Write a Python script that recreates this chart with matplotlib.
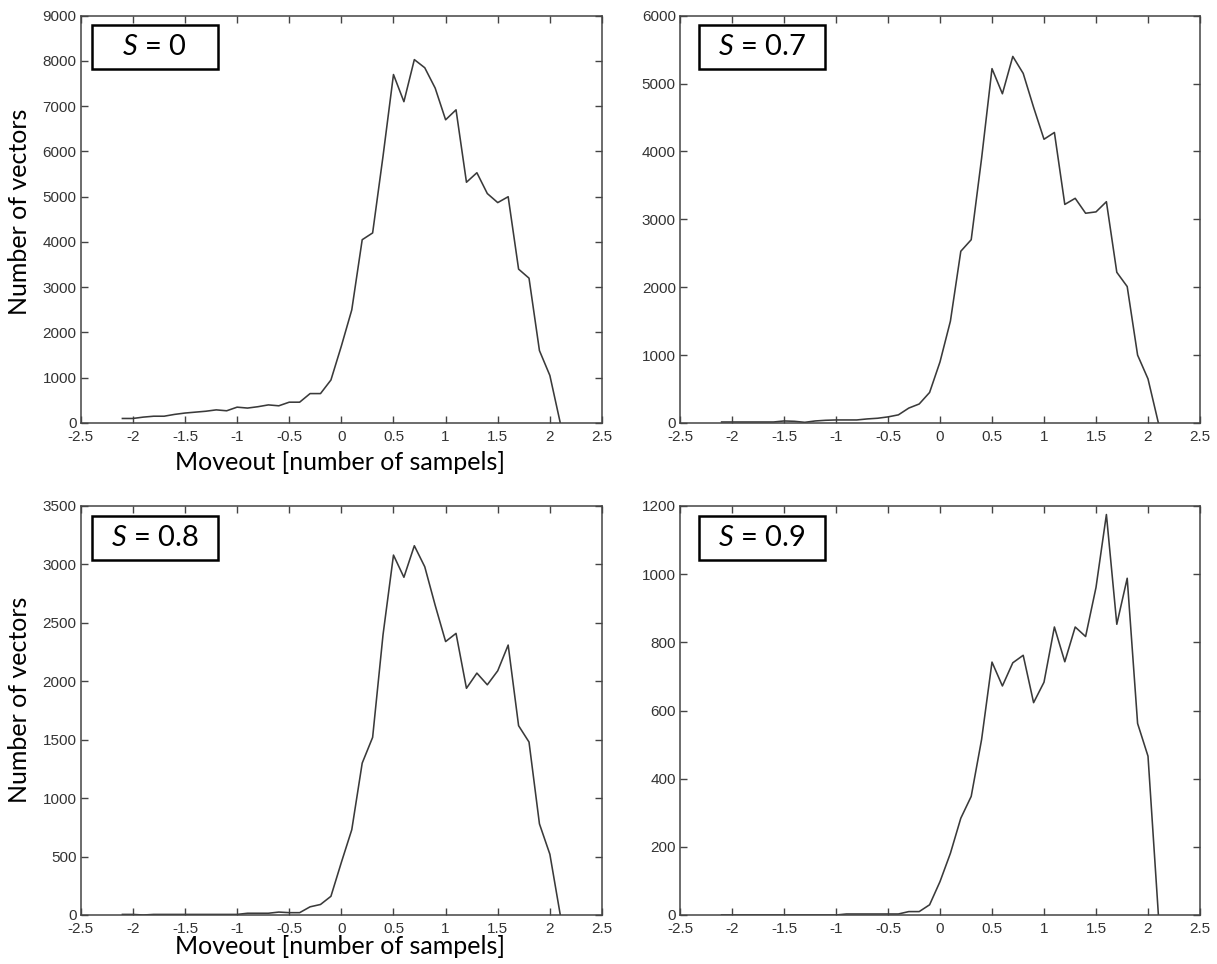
import numpy as np
import matplotlib
matplotlib.use("Agg")
import matplotlib.pyplot as plt
from matplotlib.patches import Rectangle

# Moveout bins (number of samples)
moveout = [round(-2.1 + 0.1 * i, 1) for i in range(43)]

counts_s0 = [100, 100, 130, 150, 150, 190, 220, 240, 260, 290, 270,
             350, 330, 360, 400, 380, 460, 460, 650, 650, 950,
             1700, 2500, 4050, 4200, 5900, 7700, 7100, 8030, 7850, 7400,
             6700, 6920, 5320, 5530, 5070, 4870, 5000, 3400, 3200, 1600,
             1050, 0]

counts_s07 = [15, 15, 15, 15, 15, 15, 30, 25, 10, 30, 40,
              45, 45, 45, 60, 70, 90, 120, 220, 280, 450,
              900, 1500, 2530, 2700, 3900, 5220, 4850, 5400, 5150, 4650,
              4180, 4280, 3220, 3310, 3090, 3110, 3260, 2220, 2010, 1000,
              650, 0]

counts_s08 = [5, 5, 0, 5, 5, 5, 5, 5, 5, 5, 5,
              5, 15, 15, 15, 25, 20, 20, 70, 90, 160,
              450, 730, 1300, 1520, 2400, 3080, 2890, 3160, 2980, 2650,
              2340, 2410, 1940, 2070, 1970, 2090, 2310, 1620, 1480, 780,
              520, 0]

counts_s09 = [0, 0, 0, 0, 0, 0, 0, 0, 0, 0, 0,
              0, 3, 3, 3, 3, 3, 3, 10, 10, 30,
              98, 181, 284, 348, 515, 742, 672, 740, 762, 623,
              683, 845, 743, 845, 817, 961, 1175, 853, 988, 562,
              466, 0]

s_labels = ["0", "0.7", "0.8", "0.9"]
y_limits = [9000, 6000, 3500, 1200]
y_steps = [1000, 1000, 500, 200]
x_ticks = [-2.5, -2, -1.5, -1, -0.5, 0, 0.5, 1, 1.5, 2, 2.5]

series = [counts_s0, counts_s07, counts_s08, counts_s09]

W, H = 1217, 964
fig = plt.figure(figsize=(W / 100, H / 100), dpi=100)
fig.patch.set_facecolor("white")

plt.rcParams["mathtext.fontset"] = "custom"
plt.rcParams["mathtext.it"] = "Lato:italic"
plt.rcParams["mathtext.rm"] = "Lato"

# axes rectangles in pixels: (left, top, right, bottom)
boxes_px = [(80.7, 15.7, 602, 423),
            (680, 15.7, 1200, 423),
            (80.7, 506, 602, 915),
            (680, 506, 1200, 915)]

tick_font = ["Liberation Sans Narrow", "Liberation Sans", "DejaVu Sans"]
label_font = ["Lato", "DejaVu Sans"]
ink = "#333333"

def fmt(v):
    if float(v).is_integer():
        return str(int(v))
    return f"{v:g}"

for k, (l, t, r, b) in enumerate(boxes_px):
    ax = fig.add_axes([l / W, 1 - b / H, (r - l) / W, (b - t) / H])
    ax.plot(moveout, series[k], color="#3a3a3a", lw=1.15)
    ax.set_xlim(-2.5, 2.5)
    ax.set_ylim(0, y_limits[k])
    yt = np.arange(0, y_limits[k] + 1, y_steps[k])
    ax.set_yticks(yt)
    ax.set_yticklabels([str(int(v)) for v in yt])
    ax.set_xticks(x_ticks)
    ax.set_xticklabels([fmt(v) for v in x_ticks])
    ax.tick_params(direction="in", length=5, width=1, color="#444444",
                   top=True, right=True, labelsize=11, labelcolor=ink)
    ax.tick_params(axis="y", pad=3)
    ax.tick_params(axis="x", pad=5)
    for lab in ax.get_xticklabels() + ax.get_yticklabels():
        lab.set_family(tick_font)
    for sp in ax.spines.values():
        sp.set_color("#444444")
        sp.set_linewidth(1.1)

    # boxed S label in the upper-left corner
    bx0 = 91.7 if k % 2 == 0 else 699
    by0 = 25 if k < 2 else 516
    bw, bh = 126, 44
    rect = Rectangle(((bx0 - l) / (r - l), (b - (by0 + bh)) / (b - t)),
                     bw / (r - l), bh / (b - t), transform=ax.transAxes,
                     facecolor="white", edgecolor="black", lw=1.8, zorder=5)
    ax.add_patch(rect)
    ax.text((bx0 + bw / 2 - l) / (r - l), (b - (by0 + bh / 2)) / (b - t),
            r"$S$ = " + s_labels[k], transform=ax.transAxes,
            ha="center", va="center", fontsize=21, family=label_font,
            color="black", zorder=6)

# axis titles on the left column
for yc in (212, 700):
    fig.text(20 / W, 1 - yc / H, "Number of vectors", rotation=90,
             ha="center", va="center", fontsize=18, family=label_font,
             color="black")
for yc in (462, 947):
    fig.text(340 / W, 1 - yc / H, "Moveout [number of sampels]",
             ha="center", va="center", fontsize=18, family=label_font,
             color="black")

fig.savefig("out.png", dpi=100, facecolor="white")
